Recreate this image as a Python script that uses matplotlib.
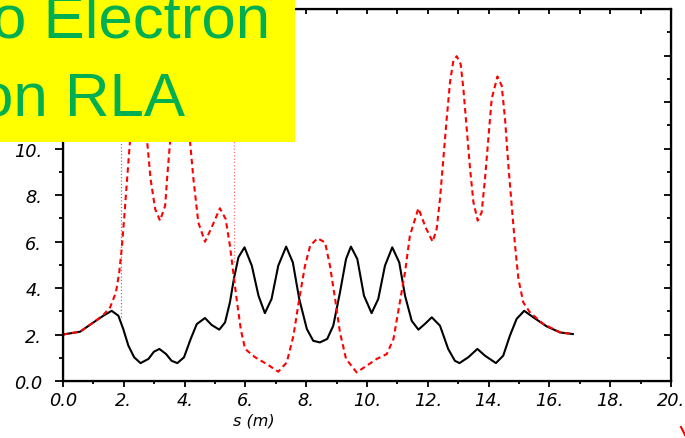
import numpy as np
import matplotlib
matplotlib.use('Agg')
import matplotlib.pyplot as plt
from matplotlib.patches import Rectangle
from matplotlib.lines import Line2D

# beta functions (s in m)
s_x = [0.0, 0.56, 1.0, 1.33, 1.6, 1.82, 1.98, 2.15, 2.34, 2.55, 2.81, 2.99, 3.17,
       3.39, 3.57, 3.76, 3.98, 4.2, 4.4, 4.67, 4.89, 5.14, 5.33, 5.49, 5.62, 5.77,
       5.97, 6.21, 6.43, 6.64, 6.86, 7.08, 7.34, 7.56, 7.77, 8.02, 8.23, 8.45, 8.69,
       8.89, 9.11, 9.31, 9.47, 9.68, 9.9, 10.15, 10.37, 10.59, 10.83, 11.06, 11.25,
       11.47, 11.69, 11.9, 12.13, 12.4, 12.67, 12.89, 13.04, 13.33, 13.63, 13.88,
       14.24, 14.48, 14.7, 14.92, 15.17, 15.47, 15.91, 16.35, 16.77]
beta_x = [2.0, 2.12, 2.52, 2.81, 3.02, 2.81, 2.24, 1.52, 1.02, 0.77, 0.95, 1.26, 1.38,
          1.16, 0.87, 0.77, 1.02, 1.81, 2.45, 2.71, 2.41, 2.21, 2.52, 3.38, 4.39, 5.32,
          5.75, 4.96, 3.67, 2.92, 3.53, 4.96, 5.78, 5.1, 3.53, 2.24, 1.73, 1.66, 1.81,
          2.38, 3.81, 5.25, 5.78, 5.25, 3.67, 2.92, 3.53, 4.96, 5.75, 5.1, 3.67,
          2.59, 2.21, 2.45, 2.74, 2.38, 1.38, 0.87, 0.77, 1.02, 1.38, 1.09,
          0.77, 1.09, 1.95, 2.67, 3.02, 2.74, 2.35, 2.09, 2.02]

s_y = [0.0, 0.56, 1.0, 1.33, 1.55, 1.74, 1.85, 1.93, 2.01, 2.1, 2.2, 2.35, 2.51, 2.65,
       2.77, 2.88, 3.03, 3.19, 3.36, 3.43, 3.52, 3.65, 3.85, 4.02, 4.18, 4.29, 4.45,
       4.67, 4.89, 5.16, 5.35, 5.49, 5.6, 5.71, 5.85, 5.99, 6.32, 6.7, 7.08, 7.36,
       7.58, 7.77, 7.96, 8.13, 8.37, 8.62, 8.78, 8.95, 9.11, 9.31, 9.66, 9.99, 10.32,
       10.65, 10.87, 11.06, 11.25, 11.41, 11.69, 11.93, 12.16, 12.29, 12.4, 12.51,
       12.62, 12.73, 12.84, 12.95, 13.08, 13.17, 13.28, 13.39, 13.5, 13.64, 13.77,
       13.88, 13.99, 14.1, 14.29, 14.43, 14.54, 14.65, 14.76, 14.87, 14.98, 15.14,
       15.36, 15.8, 16.35, 16.77]
beta_y = [2.0, 2.12, 2.52, 2.85, 3.17, 3.81, 4.68, 5.68, 6.97, 8.55, 10.27, 12.6, 13.1, 12.4,
          10.27, 8.69, 7.4, 6.9, 7.54, 8.83, 10.27, 12.5, 13.97, 12.8, 10.27, 8.69, 6.82,
          5.99, 6.61, 7.43, 6.97, 5.82, 4.68, 3.53, 2.2, 1.38, 1.02, 0.73, 0.4, 0.8,
          1.95, 3.53, 4.96, 5.82, 6.14, 5.96, 4.96, 3.53, 2.09, 0.95, 0.37, 0.66, 0.95,
          1.16, 1.81, 3.24, 4.68, 6.25, 7.43, 6.6, 5.99, 6.54, 7.83, 9.55,
          11.27, 12.85, 13.78, 13.97, 13.63, 12.56, 10.84, 9.12, 7.69, 6.9, 7.25,
          8.69, 10.41, 12.13, 13.1, 12.7, 11.27, 9.26, 7.54, 5.82, 4.39, 3.38,
          2.95, 2.45, 2.09, 2.02]

# markers for element boundaries
s_mark_grey = 1.9
s_mark_red = 5.62

x_ticks = [0, 2, 4, 6, 8, 10, 12, 14, 16, 18, 20]
x_labels = ['0.0', '2.', '4.', '6.', '8.', '10.', '12.', '14.', '16.', '18.', '20.']
y_ticks = [0, 2, 4, 6, 8, 10, 12, 14, 16]
y_labels = ['0.0', '2.', '4.', '6.', '8.', '10.', '', '', '']

fig = plt.figure(figsize=(6.85, 4.39), dpi=100)
ax = fig.add_axes([0.092, 0.1298, 0.8876, 0.8474])

ax.plot([s_mark_grey, s_mark_grey], [2.75, 16], color='grey', linestyle=':', linewidth=0.9)
ax.plot([s_mark_red, s_mark_red], [5.1, 16], color='#ff7070', linestyle=':', linewidth=0.9)
ax.plot(s_x, beta_x, color='black', linewidth=1.5, solid_joinstyle='round')
ax.plot(s_y, beta_y, color='red', linewidth=1.5, dashes=(2.6, 1.8))

ax.set_xlim(0, 20)
ax.set_ylim(0, 16)
ax.set_xticks(x_ticks)
ax.set_xticklabels(x_labels)
ax.set_yticks(y_ticks)
ax.set_yticklabels(y_labels)
ax.set_xticks(np.arange(1, 20, 2), minor=True)
ax.set_yticks(np.arange(1, 16, 2), minor=True)
for lab in ax.get_xticklabels() + ax.get_yticklabels():
	lab.set_fontstyle('italic')
	lab.set_fontsize(12.8)
ax.tick_params(axis='x', which='major', direction='out', length=4, width=1.3, pad=3)
ax.tick_params(axis='x', which='minor', direction='out', length=2, width=1.3)
ax.tick_params(axis='y', which='major', direction='out', length=6, width=1.3, pad=9)
ax.tick_params(axis='y', which='minor', direction='out', length=3, width=1.3)
for sp in ax.spines.values():
	sp.set_linewidth(1.6)

# inward ticks on top and right
axt = ax.twiny()
axt.set_xlim(0, 20)
axt.set_xticks(np.arange(1, 20, 1))
axt.tick_params(axis='x', direction='in', length=3.5, width=1.3, labeltop=False)
axr = ax.twinx()
axr.set_ylim(0, 16)
axr.set_yticks(y_ticks)
axr.set_yticks(np.arange(1, 16, 2), minor=True)
axr.tick_params(axis='y', which='major', direction='in', length=5, width=1.3, labelright=False)
axr.tick_params(axis='y', which='minor', direction='in', length=3, width=1.3)

fig.text(0.370, 0.041, 's (m)', fontsize=11.5, fontstyle='italic', ha='center', va='center')

# slide title box covering the top-left corner
fig.patches.append(Rectangle((0, 1 - 143 / 439), 295 / 685, 143 / 439, transform=fig.transFigure,
                             facecolor='#ffff00', edgecolor='none', zorder=10))
fig.text(270 / 685, 1 - 37 / 439, 'o Electron', fontsize=44.5, family='Liberation Sans',
         color='#00b050', ha='right', va='baseline', zorder=11)
fig.text(185 / 685, 1 - 115 / 439, 'on RLA', fontsize=44.5, family='Liberation Sans',
         color='#00b050', ha='right', va='baseline', zorder=11)

fig.add_artist(Line2D([681 / 685, 685 / 685], [1 - 428 / 439, 1 - 436 / 439], color='red', linewidth=1.5))

fig.savefig('out.png', dpi=100)
